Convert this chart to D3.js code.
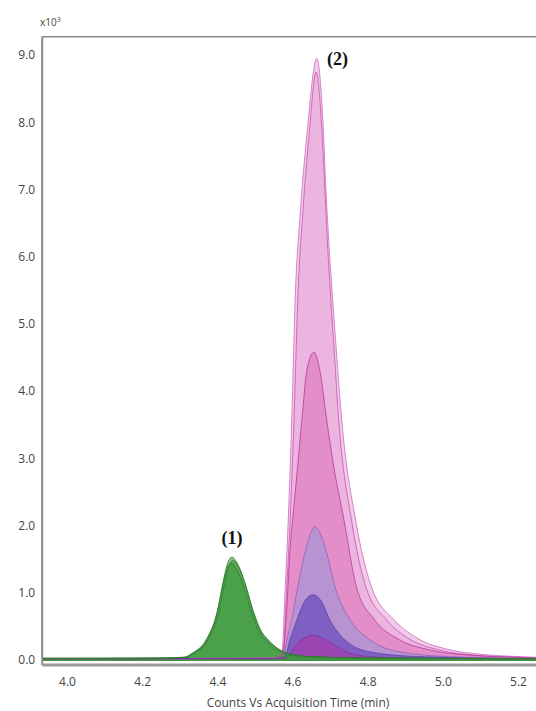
<!DOCTYPE html>
<html lang="en">
    <head>
        <meta charset="utf-8">
        <title>Counts Vs Acquisition Time</title>
        <script src="https://d3js.org/d3.v7.min.js"></script>
        <style media="screen">
        body { margin: 0; background: #fff; }
        .axis text {
          font-family: "Open Sans", sans-serif;
          font-size: 12px;
          fill: #444;
        }
        .axis path { display: none; }
        .peak-label {
          font-family: "Liberation Serif", "DejaVu Serif", serif;
          font-weight: bold;
          font-size: 18px;
          fill: #111;
        }
        </style>
    </head>
    <body>
        <script type="text/javascript">
        'use strict'
        // [time (min), counts x10^3]
        let green1 = [[3.934,0.03],[4.22,0.03],[4.314,0.04],[4.335,0.1],[4.372,0.3],[4.402,0.77],[4.415,1.15],
          [4.428,1.45],[4.439,1.53],[4.452,1.45],[4.473,1.15],[4.492,0.77],[4.513,0.45],[4.535,0.3],
          [4.585,0.1],[4.646,0.05],[4.779,0.03],[5.25,0.02]]
        let green2 = [[3.934,0.02],[4.22,0.03],[4.318,0.04],[4.338,0.1],[4.375,0.3],[4.405,0.74],[4.418,1.1],
          [4.431,1.40],[4.442,1.48],[4.455,1.40],[4.476,1.1],[4.495,0.74],[4.516,0.44],[4.538,0.28],
          [4.588,0.1],[4.65,0.05],[4.78,0.03],[5.25,0.02]]
        let green3 = [[3.934,0.02],[4.22,0.02],[4.311,0.04],[4.333,0.1],[4.370,0.3],[4.400,0.72],[4.413,1.08],
          [4.426,1.36],[4.437,1.44],[4.450,1.36],[4.471,1.08],[4.490,0.72],[4.511,0.42],[4.533,0.27],
          [4.583,0.09],[4.64,0.05],[4.77,0.03],[5.25,0.02]]
        let pinkA = [[3.934,0.02],[4.40,0.02],[4.55,0.03],[4.572,0.1],[4.580,1.0],[4.588,2.0],[4.598,3.57],
          [4.607,5.36],[4.620,6.6],[4.638,7.8],[4.665,8.95],[4.681,8.0],[4.689,7.0],[4.699,6.0],
          [4.707,5.36],[4.718,4.5],[4.731,3.57],[4.768,2.08],[4.810,1.09],[4.870,0.6],[4.940,0.3],
          [5.020,0.15],[5.11,0.08],[5.205,0.05],[5.25,0.04]]
        let pinkB = [[3.934,0.02],[4.55,0.03],[4.575,0.1],[4.584,1.0],[4.593,2.0],[4.604,3.57],[4.614,5.36],
          [4.628,6.7],[4.644,7.8],[4.663,8.75],[4.678,7.9],[4.686,7.0],[4.695,6.0],[4.702,5.36],
          [4.712,4.5],[4.723,3.57],[4.757,2.08],[4.795,1.09],[4.850,0.6],[4.915,0.3],[4.99,0.15],
          [5.09,0.07],[5.25,0.03]]
        let pinkC = [[3.934,0.02],[4.55,0.02],[4.574,0.1],[4.585,0.8],[4.593,1.6],[4.604,2.3],[4.614,2.9],
          [4.625,3.57],[4.638,4.3],[4.657,4.58],[4.673,4.3],[4.691,3.57],[4.710,2.87],[4.737,2.08],
          [4.770,1.09],[4.818,0.6],[4.885,0.3],[4.965,0.15],[5.075,0.07],[5.205,0.04],[5.25,0.03]]
        let lavender = [[3.934,0.02],[4.55,0.02],[4.577,0.05],[4.585,0.3],[4.598,0.6],[4.614,1.09],[4.633,1.59],
          [4.660,1.98],[4.691,1.59],[4.713,1.09],[4.753,0.6],[4.806,0.3],[4.886,0.12],[5.019,0.05],[5.25,0.02]]
        let violet = [[3.934,0.02],[4.55,0.02],[4.580,0.05],[4.593,0.3],[4.612,0.6],[4.633,0.88],[4.654,0.97],
          [4.676,0.88],[4.699,0.6],[4.739,0.3],[4.806,0.12],[4.939,0.05],[5.25,0.02]]
        let magenta = [[3.934,0.02],[4.55,0.02],[4.585,0.03],[4.606,0.2],[4.633,0.33],[4.654,0.37],[4.678,0.33],
          [4.713,0.22],[4.753,0.1],[4.832,0.04],[5.019,0.02],[5.25,0.02]]

        let xTicks = [4.0, 4.2, 4.4, 4.6, 4.8, 5.0, 5.2]
        let yTicks = [0, 1, 2, 3, 4, 5, 6, 7, 8, 9]

        let w = 536
        let h = 711

        let xScale = d3.scaleLinear()
                  .domain([4.0, 5.2])
                  .range([67, 518])
        let yScale = d3.scaleLinear()
                  .domain([0, 9])
                  .range([660, 55])

        let svg = d3.select("body")
          .append("svg")
          .attr("width", w)
          .attr("height", h)

        let xLeft = xScale(3.934)
        let yTop = yScale(9.27)
        let yBottom = yScale(-0.075)

        let area = d3.area()
          .x((d) => xScale(d[0]))
          .y0(yScale(0) + 1)
          .y1((d) => yScale(d[1]))
          .curve(d3.curveMonotoneX)
        let line = d3.line()
          .x((d) => xScale(d[0]))
          .y((d) => yScale(d[1]))
          .curve(d3.curveMonotoneX)

        let traces = [
          { data: pinkA, fill: "#f2cbea", stroke: "#cc6cbb", op: 1 },
          { data: pinkB, fill: "#ebb5df", stroke: "#c455b0", op: 1 },
          { data: pinkC, fill: "#e38dc9", stroke: "#b8389e", op: 1 },
          { data: lavender, fill: "#b793d1", stroke: "#9064b8", op: 1 },
          { data: violet, fill: "#7f60c2", stroke: "#5a3eae", op: 1 },
          { data: magenta, fill: "#9a45b2", stroke: "#8a2ea2", op: 1 },
          { data: green3, fill: "#3f9a3e", stroke: "#2f7d30", op: 0.6 },
          { data: green2, fill: "#3f9a3e", stroke: "#2f7d30", op: 0.6 },
          { data: green1, fill: "#3f9a3e", stroke: "#2f7d30", op: 0.6 }
        ]

        let plot = svg.append("g")

        plot.selectAll("path.fill")
          .data(traces)
          .enter()
          .append("path")
          .attr("class", "fill")
          .attr("d", (d) => area(d.data))
          .attr("fill", (d) => d.fill)
          .attr("fill-opacity", (d) => d.op)

        plot.selectAll("path.edge")
          .data(traces)
          .enter()
          .append("path")
          .attr("class", "edge")
          .attr("d", (d) => line(d.data))
          .attr("fill", "none")
          .attr("stroke", (d) => d.stroke)
          .attr("stroke-width", 1)
          .attr("stroke-opacity", 0.8)

        // frame
        svg.append("line")
          .attr("x1", xLeft).attr("x2", w)
          .attr("y1", yTop).attr("y2", yTop)
          .attr("stroke", "#8a8a8a").attr("stroke-width", 1.5)
        svg.append("line")
          .attr("x1", xLeft).attr("x2", xLeft)
          .attr("y1", yTop).attr("y2", yBottom)
          .attr("stroke", "#8a8a8a").attr("stroke-width", 2)
        svg.append("line")
          .attr("x1", xLeft).attr("x2", w)
          .attr("y1", yBottom).attr("y2", yBottom)
          .attr("stroke", "#9a9a9a").attr("stroke-width", 3)

        svg.append("g")
          .attr("class", "axis")
          .attr("transform", "translate(" + (xLeft - 1) + ",0)")
          .call(d3.axisLeft(yScale).tickValues(yTicks).tickSize(0).tickPadding(6).tickFormat(d3.format(".1f")))

        svg.append("g")
          .attr("class", "axis")
          .attr("transform", "translate(0," + (yBottom + 2) + ")")
          .call(d3.axisBottom(xScale).tickValues(xTicks).tickSize(0).tickPadding(10).tickFormat(d3.format(".1f")))

        svg.append("text")
          .attr("x", 40)
          .attr("y", 26)
          .attr("font-family", "Open Sans, sans-serif")
          .attr("font-size", "10px")
          .attr("fill", "#444")
          .text("x10")
          .append("tspan")
          .attr("dy", -4)
          .attr("font-size", "7px")
          .text("3")

        svg.append("text")
          .attr("x", 298)
          .attr("y", 707)
          .attr("text-anchor", "middle")
          .attr("font-family", "Open Sans, sans-serif")
          .attr("font-size", "12px")
          .attr("fill", "#444")
          .text("Counts Vs Acquisition Time (min)")

        svg.append("text")
          .attr("class", "peak-label")
          .attr("x", xScale(4.439))
          .attr("y", yScale(1.72))
          .attr("text-anchor", "middle")
          .text("(1)")

        svg.append("text")
          .attr("class", "peak-label")
          .attr("x", xScale(4.665) + 10)
          .attr("y", yScale(8.85))
          .text("(2)")
        </script>
    </body>
</html>
